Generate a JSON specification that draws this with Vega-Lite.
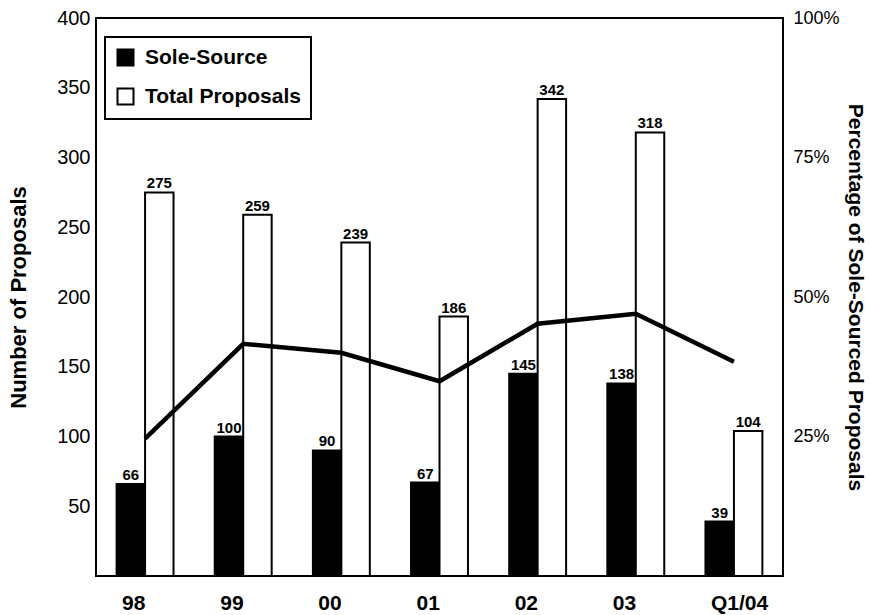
{
  "$schema": "https://vega.github.io/schema/vega-lite/v6.json",
  "width": 687,
  "height": 558,
  "autosize": {"type": "none"},
  "padding": {"left": 96, "top": 18, "right": 86, "bottom": 39},
  "background": "white",
  "config": {
    "font": "Liberation Sans",
    "view": {"stroke": "black", "strokeWidth": 2},
    "axis": {"grid": false, "ticks": false, "domain": false, "labelColor": "black", "titleColor": "black"},
    "legend": {"strokeWidth": 2}
  },
  "datasets": {
    "counts": [
      {"year": "98", "series": "Sole-Source", "value": 66},
      {"year": "98", "series": "Total Proposals", "value": 275},
      {"year": "99", "series": "Sole-Source", "value": 100},
      {"year": "99", "series": "Total Proposals", "value": 259},
      {"year": "00", "series": "Sole-Source", "value": 90},
      {"year": "00", "series": "Total Proposals", "value": 239},
      {"year": "01", "series": "Sole-Source", "value": 67},
      {"year": "01", "series": "Total Proposals", "value": 186},
      {"year": "02", "series": "Sole-Source", "value": 145},
      {"year": "02", "series": "Total Proposals", "value": 342},
      {"year": "03", "series": "Sole-Source", "value": 138},
      {"year": "03", "series": "Total Proposals", "value": 318},
      {"year": "Q1/04", "series": "Sole-Source", "value": 39},
      {"year": "Q1/04", "series": "Total Proposals", "value": 104}
    ],
    "share": [
      {"year": "98", "pct": 0.246},
      {"year": "99", "pct": 0.416},
      {"year": "00", "pct": 0.40},
      {"year": "01", "pct": 0.349},
      {"year": "02", "pct": 0.452},
      {"year": "03", "pct": 0.47},
      {"year": "Q1/04", "pct": 0.384}
    ]
  },
  "layer": [
    {
      "data": {"name": "counts"},
      "encoding": {
        "x": {
          "field": "year",
          "type": "nominal",
          "sort": ["98", "99", "00", "01", "02", "03", "Q1/04"],
          "scale": {"paddingInner": 0.42, "paddingOuter": 0.21},
          "axis": {
            "title": null,
            "labelAngle": 0,
            "labelAlign": "left",
            "labelOffset": -23,
            "labelFontSize": 21,
            "labelFontWeight": "bold",
            "labelPadding": 16
          }
        },
        "xOffset": {
          "field": "series",
          "type": "nominal",
          "sort": ["Sole-Source", "Total Proposals"],
          "scale": {"paddingInner": 0, "paddingOuter": 0}
        },
        "y": {
          "field": "value",
          "type": "quantitative",
          "scale": {"domain": [0, 400], "nice": false},
          "axis": {
            "values": [50, 100, 150, 200, 250, 300, 350, 400],
            "labelFontSize": 20,
            "labelPadding": 6,
            "title": "Number of Proposals",
            "titleFontSize": 22,
            "titleFontWeight": "bold",
            "titleAngle": -90,
            "titleX": -78,
            "titleY": 279,
            "titleAlign": "center",
            "titleBaseline": "middle"
          }
        }
      },
      "layer": [
        {
          "mark": {"type": "bar", "stroke": "black", "strokeWidth": 2},
          "encoding": {
            "color": {
              "field": "series",
              "type": "nominal",
              "scale": {"domain": ["Sole-Source", "Total Proposals"], "range": ["black", "white"]},
              "legend": {
                "title": null,
                "orient": "none",
                "legendX": 9,
                "legendY": 19,
                "fillColor": "white",
                "strokeColor": "black",
                "padding": 10,
                "symbolType": "square",
                "symbolSize": 256,
                "symbolStrokeColor": "black",
                "symbolStrokeWidth": 2,
                "symbolOpacity": 1,
                "labelFontSize": 21,
                "labelFontWeight": "bold",
                "labelColor": "black",
                "labelOffset": 9,
                "rowPadding": 14
              }
            }
          }
        },
        {
          "mark": {"type": "text", "fontSize": 15, "fontWeight": "bold", "color": "black", "baseline": "alphabetic", "dy": -4},
          "encoding": {"text": {"field": "value", "type": "quantitative"}}
        }
      ]
    },
    {
      "data": {"name": "share"},
      "mark": {"type": "line", "color": "black", "strokeWidth": 4.5},
      "encoding": {
        "x": {"field": "year", "type": "nominal", "sort": ["98", "99", "00", "01", "02", "03", "Q1/04"]},
        "y": {
          "field": "pct",
          "type": "quantitative",
          "scale": {"domain": [0, 1], "nice": false},
          "axis": {
            "orient": "right",
            "values": [0.25, 0.5, 0.75, 1],
            "format": ".0%",
            "labelFontSize": 18,
            "labelPadding": 10,
            "title": "Percentage of Sole-Sourced Proposals",
            "titleFontSize": 21,
            "titleFontWeight": "bold",
            "titleAngle": 90,
            "titleX": 71,
            "titleY": 279,
            "titleAlign": "center",
            "titleBaseline": "middle"
          }
        }
      }
    }
  ],
  "resolve": {"scale": {"y": "independent"}}
}
